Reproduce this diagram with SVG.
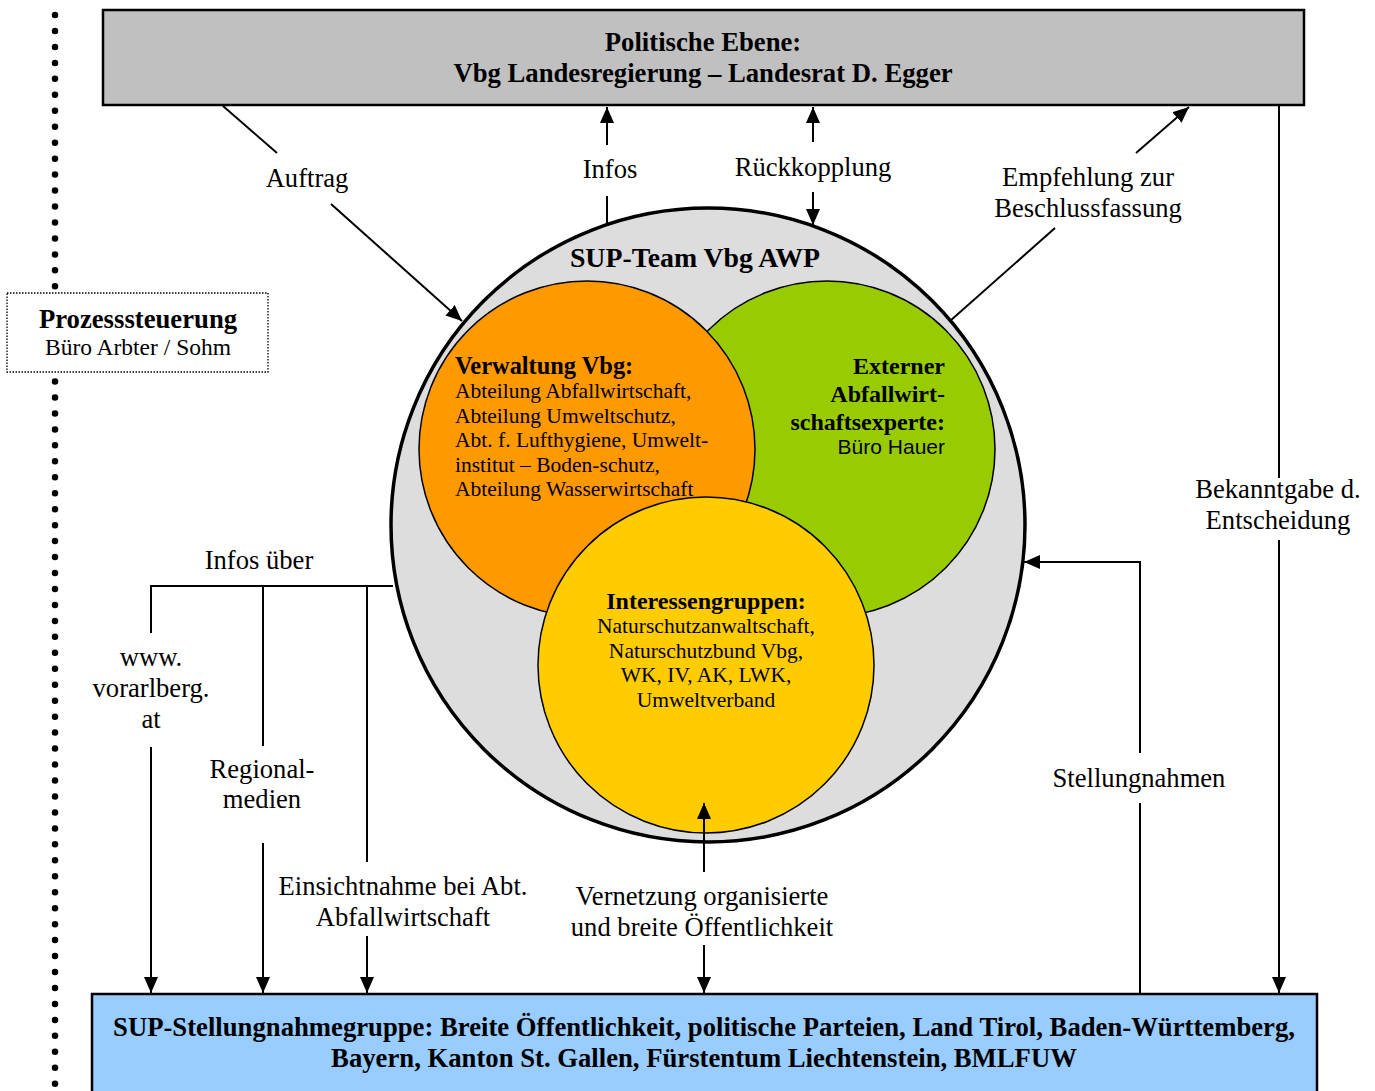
<svg xmlns="http://www.w3.org/2000/svg" width="1375" height="1091" viewBox="0 0 1375 1091">
<style>
text{font-family:"Liberation Serif","Times New Roman",serif;fill:#000}
.lbl{font-size:26.6px;text-anchor:middle}
.hb{font-size:26.7px;font-weight:bold;text-anchor:middle}
.sm{font-size:21.5px}
.smb{font-size:24px;font-weight:bold}
.con{stroke:#000;stroke-width:2;fill:none}
.dots{stroke:#000;stroke-width:6.5;stroke-linecap:round;stroke-dasharray:0 15.96;fill:none}
</style>
<defs>
<marker id="ah" viewBox="0 0 16 14" refX="16" refY="7" markerWidth="16" markerHeight="14" orient="auto" markerUnits="userSpaceOnUse"><path d="M0,0 L16,7 L0,14 z" fill="#000"/></marker>
</defs>
<rect width="1375" height="1091" fill="#fff"/>

<g id="dotted-line">
<line class="dots" x1="55" y1="15" x2="55" y2="287"/>
<line class="dots" x1="55" y1="381.5" x2="55" y2="1095"/>
</g>

<g id="prozesssteuerung">
<rect x="7" y="293" width="261" height="79" fill="#fff" stroke="#000" stroke-width="1.3" stroke-dasharray="1.5 1.5"/>
<text class="hb" x="138" y="328">Prozesssteuerung</text>
<text x="138" y="355" font-size="23.5" text-anchor="middle">Büro Arbter / Sohm</text>
</g>

<g id="politische-ebene">
<rect x="103" y="10" width="1201" height="95" fill="#c0c0c0" stroke="#000" stroke-width="2.5"/>
<text class="hb" x="703" y="51">Politische Ebene:</text>
<text class="hb" x="703" y="82">Vbg Landesregierung – Landesrat D. Egger</text>
</g>

<g id="sup-team">
<circle cx="708" cy="525" r="317" fill="#dddddd" stroke="#000" stroke-width="3.5"/>
<text class="hb" x="695" y="267" style="font-size:27.8px">SUP-Team Vbg AWP</text>
</g>

<g id="externer">
<circle cx="827" cy="449" r="168" fill="#99cc00" stroke="#000" stroke-width="1.5"/>
<text class="smb" x="945" y="374" text-anchor="end">Externer</text>
<text class="smb" x="945" y="402" text-anchor="end">Abfallwirt-</text>
<text class="smb" x="945" y="430" text-anchor="end">schaftsexperte:</text>
<text x="945" y="454" font-size="21" text-anchor="end" style="font-family:'Liberation Sans',Arial,sans-serif">Büro Hauer</text>
</g>

<g id="verwaltung">
<circle cx="587" cy="449" r="168" fill="#ff9900" stroke="#000" stroke-width="1.5"/>
<text class="smb" x="455" y="374" style="font-size:24.4px">Verwaltung Vbg:</text>
<text class="sm" x="455" y="398">Abteilung Abfallwirtschaft,</text>
<text class="sm" x="455" y="423">Abteilung Umweltschutz,</text>
<text class="sm" x="455" y="447">Abt. f. Lufthygiene, Umwelt-</text>
<text class="sm" x="455" y="472">institut – Boden-schutz,</text>
<text class="sm" x="455" y="496">Abteilung Wasserwirtschaft</text>
</g>

<g id="interessengruppen">
<circle cx="706" cy="665" r="168" fill="#ffcc00" stroke="#000" stroke-width="1.5"/>
<text class="smb" x="706" y="609" text-anchor="middle">Interessengruppen:</text>
<text class="sm" x="706" y="633" text-anchor="middle">Naturschutzanwaltschaft,</text>
<text class="sm" x="706" y="658" text-anchor="middle">Naturschutzbund Vbg,</text>
<text class="sm" x="706" y="682" text-anchor="middle">WK, IV, AK, LWK,</text>
<text class="sm" x="706" y="707" text-anchor="middle">Umweltverband</text>
</g>

<g id="stellungnahmegruppe">
<rect x="92" y="994" width="1225" height="110" fill="#99ccff" stroke="#000" stroke-width="2.5"/>
<text class="hb" x="704" y="1036">SUP-Stellungnahmegruppe: Breite Öffentlichkeit, politische Parteien, Land Tirol, Baden-Württemberg,</text>
<text class="hb" x="704" y="1067">Bayern, Kanton St. Gallen, Fürstentum Liechtenstein, BMLFUW</text>
</g>

<g id="connectors">
<!-- Auftrag -->
<line class="con" x1="223" y1="106" x2="277" y2="153"/>
<line class="con" x1="331" y1="204" x2="462" y2="321" marker-end="url(#ah)"/>
<text class="lbl" x="307" y="187">Auftrag</text>
<!-- Infos -->
<line class="con" x1="607" y1="223" x2="607" y2="196"/>
<line class="con" x1="607" y1="145" x2="607" y2="107" marker-end="url(#ah)"/>
<text class="lbl" x="610" y="178">Infos</text>
<!-- Rückkopplung -->
<line class="con" x1="813" y1="142" x2="813" y2="107" marker-end="url(#ah)"/>
<line class="con" x1="813" y1="192" x2="813" y2="225" marker-end="url(#ah)"/>
<text class="lbl" x="813" y="176">Rückkopplung</text>
<!-- Empfehlung -->
<line class="con" x1="950" y1="321" x2="1055" y2="228"/>
<line class="con" x1="1136" y1="153" x2="1189" y2="107" marker-end="url(#ah)"/>
<text class="lbl" x="1088" y="186">Empfehlung zur</text>
<text class="lbl" x="1088" y="217">Beschlussfassung</text>
<!-- Bekanntgabe -->
<line class="con" x1="1279" y1="106" x2="1279" y2="478"/>
<line class="con" x1="1279" y1="540" x2="1279" y2="993" marker-end="url(#ah)"/>
<text class="lbl" x="1278" y="498">Bekanntgabe d.</text>
<text class="lbl" x="1278" y="529">Entscheidung</text>
<!-- Stellungnahmen -->
<line class="con" x1="1140" y1="993" x2="1140" y2="803"/>
<polyline class="con" points="1140,753 1140,562 1024,562" marker-end="url(#ah)"/>
<text class="lbl" x="1139" y="787">Stellungnahmen</text>
<!-- Vernetzung -->
<line class="con" x1="704" y1="872" x2="704" y2="803" marker-end="url(#ah)"/>
<line class="con" x1="704" y1="945" x2="704" y2="993" marker-end="url(#ah)"/>
<text class="lbl" x="702" y="905">Vernetzung organisierte</text>
<text class="lbl" x="702" y="936">und breite Öffentlichkeit</text>
<!-- Infos über -->
<polyline class="con" points="393,586 151,586 151,633"/>
<line class="con" x1="151" y1="747" x2="151" y2="993" marker-end="url(#ah)"/>
<line class="con" x1="263" y1="586" x2="263" y2="746"/>
<line class="con" x1="263" y1="843" x2="263" y2="993" marker-end="url(#ah)"/>
<line class="con" x1="367" y1="586" x2="367" y2="862"/>
<line class="con" x1="367" y1="936" x2="367" y2="993" marker-end="url(#ah)"/>
<text class="lbl" x="259" y="569">Infos über</text>
<text class="lbl" x="151" y="666">www.</text>
<text class="lbl" x="151" y="697">vorarlberg.</text>
<text class="lbl" x="151" y="728">at</text>
<text class="lbl" x="262" y="778">Regional-</text>
<text class="lbl" x="262" y="808">medien</text>
<text class="lbl" x="403" y="895">Einsichtnahme bei Abt.</text>
<text class="lbl" x="403" y="926">Abfallwirtschaft</text>
</g>
</svg>
